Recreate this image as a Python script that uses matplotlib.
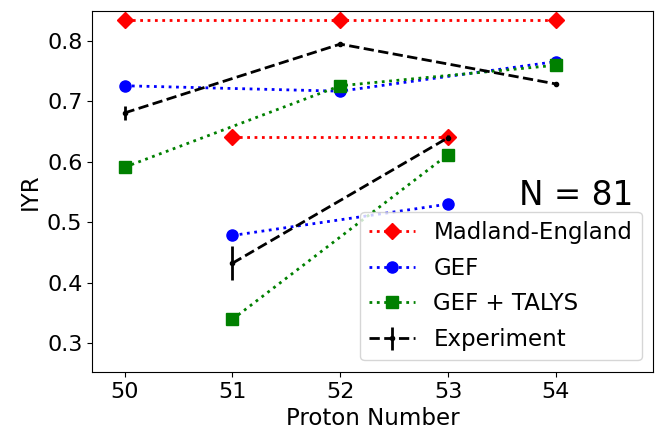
import matplotlib.pyplot as plt
import numpy as np

# even-Z and odd-Z groups are drawn as separate line segments
z_even = [50, 52, 54]
z_odd = [51, 53]

madland_even = [0.835, 0.835, 0.835]
madland_odd = [0.641, 0.641]

gef_even = [0.726, 0.717, 0.766]
gef_odd = [0.478, 0.530]

talys_even = [0.591, 0.726, 0.760]
talys_odd = [0.339, 0.612]

exp_even = [0.681, 0.795, 0.729]
exp_even_err = [0.012, 0.003, 0.004]
exp_odd = [0.432, 0.640]
exp_odd_err = [0.028, 0.004]

plt.rcParams['font.size'] = 16

fig = plt.figure(figsize=(6.68, 4.36), dpi=100)
ax = fig.add_axes([0.138, 0.147, 0.8395, 0.828])

ax.plot(z_even, madland_even, 'rD:', lw=2, ms=8, label='Madland-England')
ax.plot(z_odd, madland_odd, 'rD:', lw=2, ms=8)

ax.plot(z_even, gef_even, 'bo:', lw=2, ms=8, label='GEF')
ax.plot(z_odd, gef_odd, 'bo:', lw=2, ms=8)

ax.plot(z_even, talys_even, 'gs:', lw=2, ms=8, label='GEF + TALYS')
ax.plot(z_odd, talys_odd, 'gs:', lw=2, ms=8)

ax.errorbar(z_even, exp_even, yerr=exp_even_err, fmt='k.--', lw=2, ms=6,
            elinewidth=2, label='Experiment')
ax.errorbar(z_odd, exp_odd, yerr=exp_odd_err, fmt='k.--', lw=2, ms=6,
            elinewidth=2)

ax.set_xlim(49.7, 54.9)
ax.set_ylim(0.252, 0.850)
ax.set_xticks([50, 51, 52, 53, 54])
ax.set_xlabel('Proton Number', fontsize=16.5)
ax.set_ylabel('IYR', fontsize=16.5)

ax.text(0.965, 0.49, 'N = 81', transform=ax.transAxes, fontsize=23.5,
        ha='right', va='center')
ax.legend(loc='lower right', fontsize=16.5, labelspacing=0.56)

fig.savefig('out.png', dpi=100)
